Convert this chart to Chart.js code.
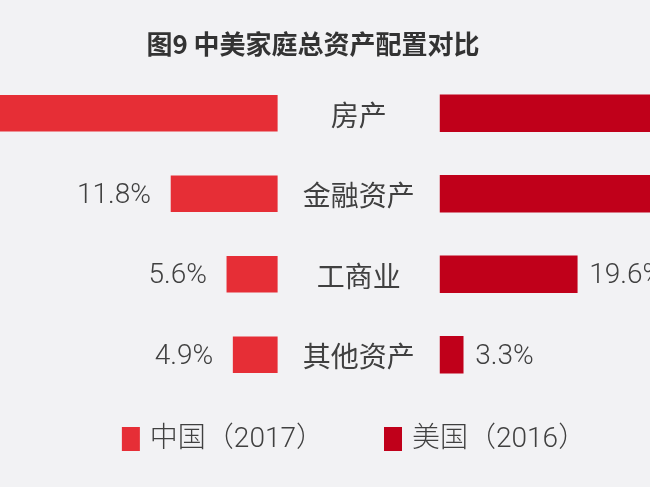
<!DOCTYPE html>
<html>
<head>
<meta charset="utf-8">
<script src="https://cdn.jsdelivr.net/npm/chart.js@4.4.1/dist/chart.umd.min.js"></script>
<style>
    html, body { margin: 0; padding: 0; background: #f2f2f4; overflow: hidden; }
    #wrap { width: 650px; height: 487px; }
</style>
</head>
<body>
<div id="wrap"><canvas id="assetChart" width="650" height="487"></canvas></div>
<script>
const titleText = "图9 中美家庭总资产配置对比";
const categories = ["房产", "金融资产", "工商业", "其他资产"];
const chinaValues = [77.7, 11.8, 5.6, 4.9];
const usValues = [34.6, 42.6, 19.6, 3.3];
const seriesLabels = ["中国（2017）", "美国（2016）"];
const seriesColors = ["#e62e36", "#c0001a"];

const cjkFont = "'Noto Sans CJK SC', 'Noto Sans', sans-serif";
const numFont = "Roboto, 'Noto Sans CJK SC', sans-serif";

// title, row names, value labels and legend drawn by hand
const textPlugin = {
    id: "butterflyText",
    afterDatasetsDraw(chart) {
        const ctx = chart.ctx;
        const xCn = chart.scales.xCn;
        const xUs = chart.scales.xUs;
        const y = chart.scales.y;
        const midX = (xCn.getPixelForValue(0) + xUs.getPixelForValue(0)) / 2;

        ctx.save();
        ctx.fillStyle = "#333";
        ctx.textBaseline = "middle";
        ctx.textAlign = "center";
        ctx.font = "bold 26px " + cjkFont;
        ctx.fillText(titleText, 313, 44);

        const cnMeta = chart.getDatasetMeta(0);
        const usMeta = chart.getDatasetMeta(1);
        categories.forEach((cat, i) => {
            const cy = y.getPixelForValue(i);
            ctx.fillStyle = "#404040";
            ctx.font = "28px " + cjkFont;
            ctx.textAlign = "center";
            ctx.fillText(cat, midX, cy + 2);

            ctx.font = "300 28px " + numFont;
            const cnBar = cnMeta.data[i];
            ctx.textAlign = "right";
            ctx.fillText(chinaValues[i].toFixed(1) + "%", cnBar.x - 20, cy + 2);
            const usBar = usMeta.data[i];
            ctx.textAlign = "left";
            ctx.fillText(usValues[i].toFixed(1) + "%", usBar.x + 12, cy + 2);
        });

        // legend
        ctx.font = "300 28px " + numFont;
        const boxW = 18, boxH = 24, gap = 10, spacing = 60;
        const widths = seriesLabels.map(t => boxW + gap + ctx.measureText(t).width);
        const total = widths[0] + spacing + widths[1];
        let lx = 354 - total / 2;
        const ly = 439;
        seriesLabels.forEach((t, i) => {
            ctx.fillStyle = seriesColors[i];
            ctx.fillRect(lx, ly - boxH / 2, boxW, boxH);
            ctx.fillStyle = "#404040";
            ctx.textAlign = "left";
            ctx.fillText(t, lx + boxW + gap, ly + 1);
            lx += widths[i] + spacing;
        });
        ctx.restore();
    }
};

new Chart(document.getElementById("assetChart"), {
    type: "bar",
    data: {
        labels: categories,
        datasets: [{
            label: seriesLabels[0],
            data: chinaValues.map(v => -v),
            backgroundColor: seriesColors[0],
            xAxisID: "xCn",
            grouped: false,
            barThickness: 36
        }, {
            label: seriesLabels[1],
            data: usValues,
            backgroundColor: seriesColors[1],
            xAxisID: "xUs",
            grouped: false,
            barThickness: 37
        }]
    },
    options: {
        indexAxis: "y",
        responsive: false,
        animation: false,
        layout: { padding: { top: 73, bottom: 92, left: 0, right: 0 } },
        plugins: {
            legend: { display: false },
            title: { display: false },
            tooltip: { enabled: false }
        },
        scales: {
            xCn: { type: "linear", display: false, min: -30.8, max: 41.4 },
            xUs: { type: "linear", display: false, min: -62.9, max: 30 },
            y: { type: "category", display: false, offset: true }
        }
    },
    plugins: [textPlugin]
});
</script>
</body>
</html>
